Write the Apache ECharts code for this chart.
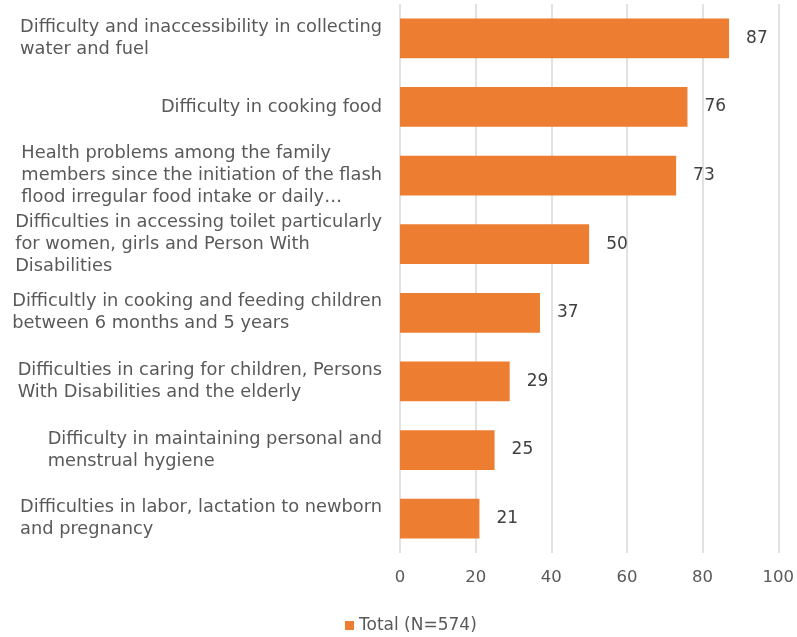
<!DOCTYPE html>
<html>
<head>
<meta charset="utf-8">
<script src="https://cdn.jsdelivr.net/npm/echarts@6/dist/echarts.min.js"></script>
<style>
html,body{margin:0;padding:0;background:#fff;}
#chart{width:797px;height:637px;}
</style>
</head>
<body>
<div id="chart"></div>
<script>
const categories = [
  "Difficulty and inaccessibility in collecting\nwater and fuel",
  "Difficulty in cooking food",
  "Health problems among the family\nmembers since the initiation of the flash\nflood irregular food intake or daily…",
  "Difficulties in accessing toilet particularly\nfor women, girls and Person With\nDisabilities",
  "Difficultly in cooking and feeding children\nbetween 6 months and 5 years",
  "Difficulties in caring for children, Persons\nWith Disabilities and the elderly",
  "Difficulty in maintaining personal and\nmenstrual hygiene",
  "Difficulties in labor, lactation to newborn\nand pregnancy"
];
const values = [87, 76, 73, 50, 37, 29, 25, 21];
const seriesName = "Total (N=574)";
const xTicks = { min: 0, max: 100, interval: 20 };

const FONT = "DejaVu Sans";
const chart = echarts.init(document.getElementById('chart'), null, {renderer: 'canvas'});
chart.setOption({
  animation: false,
  backgroundColor: '#fff',
  textStyle: { fontFamily: FONT },
  grid: { left: 400, right: 18, top: 4, bottom: 84, containLabel: false },
  legend: {
    data: [seriesName],
    top: 612,
    left: 340,
    itemWidth: 9,
    itemHeight: 9,
    icon: 'rect',
    textStyle: { color: '#595959', fontSize: 17, fontFamily: FONT }
  },
  xAxis: {
    type: 'value',
    min: xTicks.min, max: xTicks.max, interval: xTicks.interval,
    axisLine: { show: false },
    axisTick: { show: false },
    splitLine: { show: true, lineStyle: { color: '#d9d9d9', width: 1.5 } },
    axisLabel: { color: '#595959', fontSize: 16.5, margin: 16, fontFamily: FONT }
  },
  yAxis: {
    type: 'category',
    inverse: true,
    data: categories,
    axisLine: { show: false },
    axisTick: { show: false },
    axisLabel: {
      margin: 18,
      color: '#595959',
      fontSize: 17.8,
      lineHeight: 22,
      fontFamily: FONT,
      align: 'right',
      formatter: function (v) { return v.split('\n').map(l => '{a|' + l + '}').join('\n'); },
      rich: { a: { align: 'left', color: '#595959', fontSize: 17.8, lineHeight: 22, fontFamily: FONT } }
    }
  },
  series: [{
    name: seriesName,
    type: 'bar',
    data: values,
    barCategoryGap: '42%',
    itemStyle: { color: '#ED7D31' },
    label: { show: true, position: 'right', distance: 17, color: '#404040', fontSize: 17, fontFamily: FONT }
  }]
});
</script>
</body>
</html>
